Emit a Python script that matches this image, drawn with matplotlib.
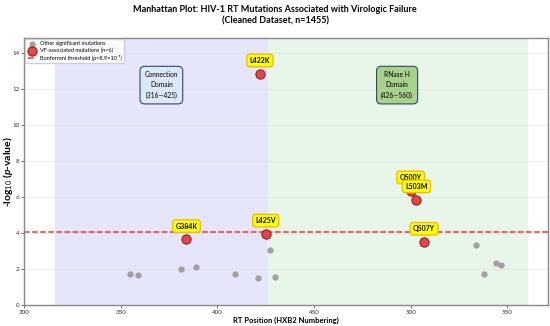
import matplotlib.pyplot as plt

# background (other significant) mutations
other_pos = [355, 359, 381, 389, 409, 421, 427, 430, 534, 538, 544, 547]
other_logp = [1.70, 1.65, 2.00, 2.10, 1.72, 1.52, 3.05, 1.54, 3.33, 1.70, 2.35, 2.20]

# VF-associated mutations
vf_names = ['G384K', 'L422K', 'L425V', 'Q500Y', 'L503M', 'Q507Y']
vf_pos = [384, 422, 425, 500, 503, 507]
vf_logp = [3.65, 12.83, 3.95, 6.35, 5.85, 3.50]

threshold = 4.05
domains = [('Connection\nDomain\n(316\u2014425)', 316, 426, '#e6e6fa', '#dbe9f6'),
           ('RNase H\nDomain\n(426\u2014560)', 426, 560, '#e8f5e9', '#a9d18e')]

plt.rcParams['font.family'] = ['Lato', 'DejaVu Sans']
plt.rcParams['mathtext.fontset'] = 'custom'
plt.rcParams['mathtext.rm'] = 'Lato'
plt.rcParams['mathtext.it'] = 'Lato:italic:bold'
plt.rcParams['mathtext.bf'] = 'Lato:bold'

fig = plt.figure(figsize=(5.5, 3.26), dpi=100)
ax = fig.add_axes([0.044, 0.064, 0.952, 0.819])

for label, start, end, shade, boxcol in domains:
    ax.axvspan(start, end, color=shade, zorder=0)
    ax.text((start + end) / 2, 12.2, label, ha='center', va='center', fontsize=4.8,
            linespacing=1.6,
            bbox=dict(boxstyle='round,pad=0.7', fc=boxcol, ec='#34495e', lw=0.8))

ax.scatter(other_pos, other_logp, s=12, color='#a0a0a0', zorder=3,
           label='Other significant mutations')
ax.scatter(vf_pos, vf_logp, s=45, color='#e0474c', edgecolor='#8b0000', lw=0.6,
           zorder=4, label='VF-associated mutations (n=6)')
ax.axhline(threshold, color='#ff3333', ls='--', lw=1.1, zorder=2,
           label='Bonferroni threshold (p=8.9\u00d710\u207b\u2075)')

for name, x, y in zip(vf_names, vf_pos, vf_logp):
    ax.annotate(name, (x, y), xytext=(0, 7), textcoords='offset points',
                ha='center', va='bottom', fontsize=5, fontweight='bold', zorder=5,
                bbox=dict(boxstyle='round,pad=0.4', fc='#ffff00', ec='#f0c000', lw=1))

ax.set_xlim(300, 571)
ax.set_ylim(0, 14.8)
ax.set_xticks([300, 350, 400, 450, 500, 550])
ax.set_yticks(range(0, 15, 2))
ax.tick_params(labelsize=4.5, length=2, width=0.5, pad=1.5, colors='#333333')
ax.grid(axis='y', color='#dddddd', lw=0.5, alpha=0.7)
ax.set_axisbelow(True)
for s in ax.spines.values():
    s.set_color('#888888')
    s.set_linewidth(1)

ax.set_xlabel('RT Position (HXB2 Numbering)', fontsize=5.5, fontweight='bold', labelpad=1)
ax.set_ylabel(r'-log$_{10}$ ($\it{p}$-value)', fontsize=7.5, fontweight='bold', va='center')
ax.yaxis.set_label_coords(-0.031, 0.5)
fig.suptitle('Manhattan Plot: HIV-1 RT Mutations Associated with Virologic Failure\n'
             '(Cleaned Dataset, n=1455)', fontsize=6.5, fontweight='bold', y=0.985,
             linespacing=1.35)

ax.legend(loc='upper left', fontsize=4, frameon=True, framealpha=0.9,
          borderpad=0.4, labelspacing=0.3, handlelength=1.5, borderaxespad=0.2)

fig.savefig('out.png', dpi=100)
